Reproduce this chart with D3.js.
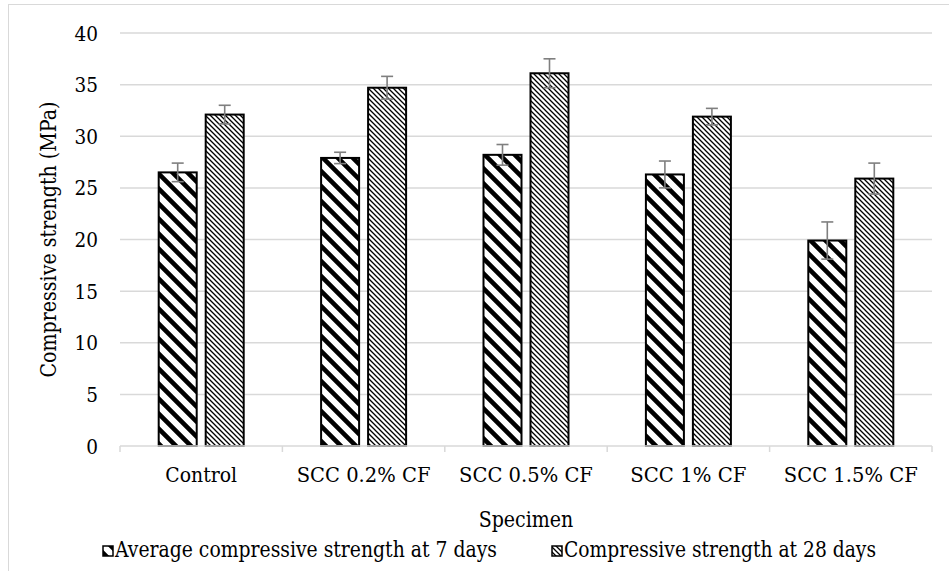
<!DOCTYPE html>
<html><head><meta charset="utf-8">
<script src="https://cdn.jsdelivr.net/npm/d3@7"></script>
<style>body{margin:0;background:#fff}svg{display:block}</style>
</head><body><svg id="c" width="949" height="571"></svg>
<script>
const categories = ["Control","SCC 0.2% CF","SCC 0.5% CF","SCC 1% CF","SCC 1.5% CF"];
const seriesNames = ["Average compressive strength at 7 days","Compressive strength at 28 days"];
const values7 = [26.5, 27.9, 28.2, 26.3, 19.9];
const err7 = [0.9, 0.55, 1.0, 1.3, 1.8];
const values28 = [32.1, 34.7, 36.1, 31.9, 25.9];
const err28 = [0.9, 1.1, 1.4, 0.8, 1.5];
const yTicks = [0,5,10,15,20,25,30,35,40];

// Times-like advance widths (em/1000) to mimic a Times layout with DejaVu Serif glyphs
const TW = {" ":250,"%":833,"(":333,")":333,".":250,"0":500,"1":500,"2":500,"3":500,"4":500,"5":500,"6":500,"7":500,"8":500,"9":500,
 A:722,C:667,F:556,M:889,P:556,S:556,a:444,c:444,d:500,e:444,g:500,h:500,i:278,l:278,m:778,n:500,o:500,p:500,r:333,s:389,t:278,v:500,y:500};
function tw(str, fs){ let w=0; for(const ch of str) w += (TW[ch]||500); return w/1000*fs; }

const svg = d3.select("#c");
const W = 949, H = 571;
const m = {l:120, r:17, t:33, b:125};
const x0 = d3.scaleBand().domain(categories).range([m.l, W-m.r]);
const y = d3.scaleLinear().domain([0,40]).range([H-m.b, m.t]);
const barW = 38, gap = 9;

const defs = svg.append("defs");
const A = 15;
const p1 = defs.append("pattern").attr("id","p7").attr("patternUnits","userSpaceOnUse")
  .attr("width",A).attr("height",A);
p1.append("rect").attr("width",A).attr("height",A).attr("fill","#fff");
p1.append("path").attr("d",`M-4,-4 L${A+4},${A+4} M-4,${A-4} L4,${A+4} M${A-4},-4 L${A+4},4`).attr("stroke","#000").attr("stroke-width",4.6);
const B = 5;
const p2 = defs.append("pattern").attr("id","p28").attr("patternUnits","userSpaceOnUse")
  .attr("width",B).attr("height",B);
p2.append("rect").attr("width",B).attr("height",B).attr("fill","#fff");
p2.append("path").attr("d",`M-1,-1 L${B+1},${B+1} M-1,${B-1} L1,${B+1} M${B-1},-1 L${B+1},1`).attr("stroke","#000").attr("stroke-width",1.3);

svg.append("rect").attr("x",8.5).attr("y",4.5).attr("width",960).attr("height",580)
  .attr("fill","none").attr("stroke","#d9d9d9").attr("stroke-width",1);

svg.append("g").selectAll("line").data(yTicks.filter(d=>d>0)).join("line")
  .attr("x1",m.l).attr("x2",W-m.r).attr("y1",d=>y(d)).attr("y2",d=>y(d))
  .attr("stroke","#d9d9d9").attr("stroke-width",1.5);

const T = svg.append("g").attr("font-family","DejaVu Serif").attr("fill","#000");
function txt(parent, str, fs){
  return parent.append("text").attr("font-size",fs*0.9)
    .attr("textLength",tw(str,fs)).attr("lengthAdjust","spacingAndGlyphs").text(str);
}

yTicks.forEach(d=>{
  txt(T, String(d), 23.5).attr("x",98).attr("y",y(d)).attr("dy","0.36em").attr("text-anchor","end");
});

function drawSeries(vals, errs, offset, pat){
  const g = svg.append("g");
  g.selectAll("rect").data(categories).join("rect")
    .attr("x",(d)=>x0(d)+x0.bandwidth()/2+offset)
    .attr("y",(d,i)=>y(vals[i]))
    .attr("width",barW).attr("height",(d,i)=>y(0)-y(vals[i]))
    .attr("fill",`url(#${pat})`).attr("stroke","#000").attr("stroke-width",2);
  const e = svg.append("g").attr("stroke","#7f7f7f").attr("stroke-width",1.6);
  categories.forEach((c,i)=>{
    const cx = x0(c)+x0.bandwidth()/2+offset+barW/2;
    e.append("line").attr("x1",cx).attr("x2",cx).attr("y1",y(vals[i]+errs[i])).attr("y2",y(vals[i]-errs[i]));
    e.append("line").attr("x1",cx-6).attr("x2",cx+6).attr("y1",y(vals[i]+errs[i])).attr("y2",y(vals[i]+errs[i]));
    e.append("line").attr("x1",cx-6).attr("x2",cx+6).attr("y1",y(vals[i]-errs[i])).attr("y2",y(vals[i]-errs[i]));
  });
}
drawSeries(values7, err7, -barW-gap/2, "p7");
drawSeries(values28, err28, gap/2, "p28");

const ax = svg.append("g").attr("stroke","#d9d9d9").attr("stroke-width",1.5);
ax.append("line").attr("x1",m.l).attr("x2",W-m.r).attr("y1",y(0)).attr("y2",y(0));
const bounds = categories.map(c=>x0(c)).concat([W-m.r]);
ax.selectAll("line.t").data(bounds).join("line").attr("class","t")
  .attr("x1",d=>d).attr("x2",d=>d).attr("y1",y(0)).attr("y2",y(0)+6);

categories.forEach(c=>{
  txt(T, c, 23.5).attr("x",x0(c)+x0.bandwidth()/2).attr("y",482).attr("text-anchor","middle");
});

txt(T, "Specimen", 24).attr("x",(m.l+W-m.r)/2).attr("y",527).attr("text-anchor","middle");
txt(T, "Compressive strength (MPa)", 24).attr("transform",`translate(48,${(y(0)+y(40))/2}) rotate(-90)`)
  .attr("dy","0.36em").attr("text-anchor","middle");

const leg = [{x:103, pat:"p7", name:seriesNames[0]},{x:552, pat:"p28", name:seriesNames[1]}];
leg.forEach(l=>{
  svg.append("rect").attr("x",l.x).attr("y",546).attr("width",10).attr("height",10)
    .attr("fill",`url(#${l.pat})`).attr("stroke","#000").attr("stroke-width",1.5);
  txt(T, l.name, 24).attr("x",l.x+12).attr("y",557);
});
</script></body></html>
